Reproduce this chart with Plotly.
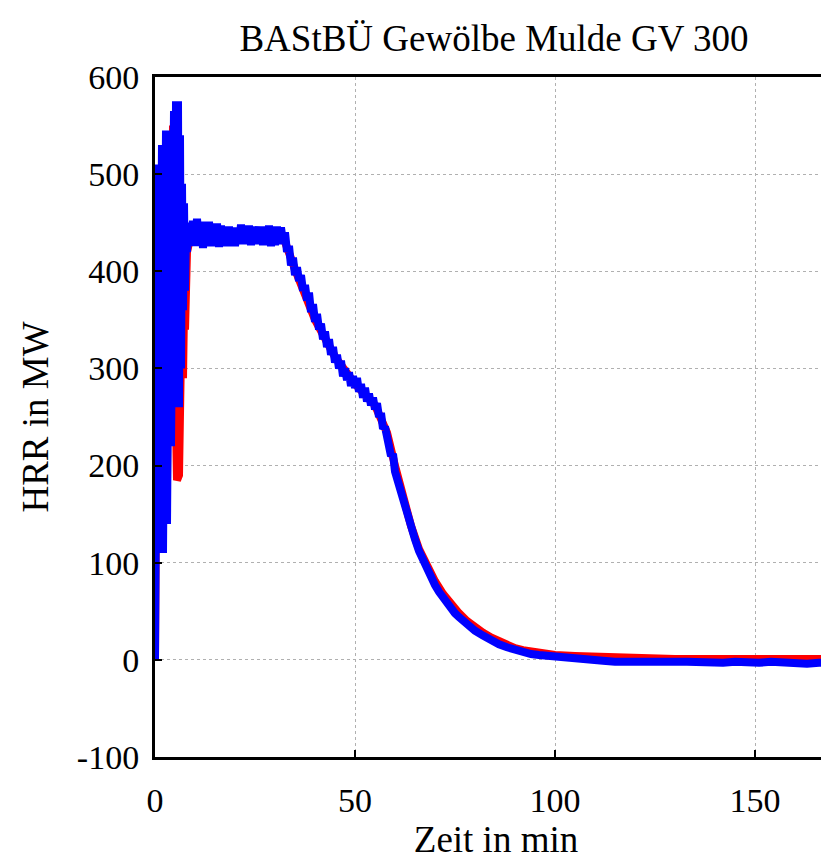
import plotly.graph_objects as go

# ---------------- data ----------------
blue_t = [0, 0.25, 0.5, 0.75, 1.0, 1.25, 1.5, 1.75, 2.0, 2.25, 2.5, 2.75, 3.0, 3.25, 3.5, 3.75,
          4.0, 4.25, 4.5, 4.75, 5.0, 5.25, 5.5, 5.75, 6.0, 6.25, 6.5, 6.75, 7.0, 7.25, 7.5, 7.75, 8.0,
          8.5, 9, 9.5, 10, 10.5, 11, 11.5, 12, 12.5, 13, 13.5, 14, 14.5, 15, 15.5, 16, 16.5, 17, 17.5,
          18, 18.5, 19, 19.5, 20, 20.5, 21, 21.5, 22, 22.5, 23, 23.5, 24, 24.5, 25, 25.5, 26, 26.5,
          27, 27.5, 28, 28.5, 29, 29.5, 30, 30.5, 31, 31.5, 32,
          32.5, 33, 33.5, 34, 34.5, 35, 35.5, 36, 36.5, 37, 37.5, 38, 38.5, 39, 39.5, 40, 40.5, 41,
          41.5, 42, 42.5, 43, 43.5, 44, 44.5, 45, 45.5, 46, 46.5, 47, 47.5, 48, 48.5, 49, 49.5, 50,
          50.5, 51, 51.5, 52, 52.5, 53, 53.5, 54, 54.5, 55, 55.5, 56, 56.5, 57, 57.5, 58, 58.5, 59,
          59.5, 60, 61, 62, 63, 64, 65, 66, 67, 68, 69, 70, 71, 72, 73, 74, 75, 76, 77, 78, 79, 80,
          82, 84, 86, 88, 90, 92, 94, 96, 98, 100, 103, 106, 109, 112, 115, 118, 121, 124, 127, 130,
          133, 136, 139, 142, 145, 148, 151, 154, 157, 160, 163, 166, 170, 173]
blue_v = [0, 500, 175, 510, 150, 530, 150, 530, 110, 545, 110, 545, 140, 520, 150, 520,
          220, 565, 240, 565, 310, 575, 265, 575, 260, 540, 300, 490, 360, 470, 380, 445, 420,
          450, 428, 452, 426, 454, 430, 451, 424, 450, 428, 451, 426, 447, 427, 449, 425, 447, 428, 445,
          426, 446, 428, 444, 426, 445, 429, 448, 428, 446, 430, 447, 427, 445, 429, 446, 428, 444,
          427, 446, 428, 447, 426, 445, 427, 446, 428, 445, 430,
          440, 420, 426, 406, 414, 396, 404, 390, 396, 380, 386, 370, 378, 358, 366, 348, 356, 340,
          346, 330, 338, 322, 330, 314, 322, 306, 314, 300, 308, 292, 300, 288, 296, 282, 292, 280,
          290, 276, 284, 270, 280, 266, 274, 262, 270, 258, 264, 250, 254, 238, 240, 226, 226, 210,
          212, 194, 180, 164, 150, 136, 124, 112, 102, 92, 84, 77, 70, 64, 58, 53, 48, 44, 40, 36,
          33, 30, 25, 20, 16, 13, 10, 8, 6, 5, 4, 3, 2, 0, 0, -1, -2, -1, -2, -2, -3, -2, -2, -3,
          -2, -3, -2, -3, -3, -2, -3, -3, -4, -3, -3, -4, -3, -3]

red_t = [0, 0.25, 0.5, 0.75, 1.0, 1.5, 2.0, 2.5, 3.0, 3.5, 4.0, 4.5, 5.0, 5.5, 6.0, 6.25, 6.5,
         6.75, 7.0, 7.25, 7.5, 8.0, 9, 12, 16, 20, 24, 28, 32, 35, 40, 45, 50, 55, 58, 60, 62, 64,
         66, 68, 70, 72, 74, 76, 78, 80, 82, 84, 86, 88, 90, 92, 95, 100, 105, 110, 120, 130, 140,
         150, 160, 173]
red_v = [0, 480, 200, 500, 200, 500, 150, 520, 180, 500, 250, 550, 300, 185, 190, 260, 270,
         380, 290, 360, 340, 420, 438, 437, 436, 436, 437, 437, 436, 402, 350, 312, 284, 262, 234,
         200, 168, 138, 114, 96, 81, 68, 57, 48, 40, 33, 28, 23, 19, 15, 12, 10, 8, 5, 4, 3, 2, 1,
         1, 1, 1, 1]

x_ticks = [0, 50, 100, 150]
y_ticks = [-100, 0, 100, 200, 300, 400, 500, 600]

title_text = "BAStBÜ Gewölbe Mulde GV 300"
x_title = "Zeit in min"
y_title = "HRR in MW"

# ---------------- figure ----------------
FONT = "Liberation Serif"
FIG_H = 852

fig = go.Figure()
fig.add_trace(go.Scatter(x=red_t, y=red_v, mode="lines",
                         line=dict(color="#ff0000", width=8), showlegend=False))
fig.add_trace(go.Scatter(x=blue_t, y=blue_v, mode="lines",
                         line=dict(color="#0000ff", width=8), showlegend=False))

# the page body adds an 8px offset, so the figure is sized/positioned to compensate
fig.update_layout(
    width=829, height=FIG_H,
    margin=dict(l=147, r=0, t=69, b=FIG_H - 749, autoexpand=False),
    paper_bgcolor="white", plot_bgcolor="white",
    font=dict(family=FONT, color="black", size=34),
    title=dict(text=title_text, font=dict(family=FONT, size=37, color="black"),
               x=0.497, xref="paper", xanchor="center", y=1 - 30 / FIG_H, yref="container",
               yanchor="middle"),
    showlegend=False,
)
fig.update_xaxes(
    range=[0, 170.5], tickvals=x_ticks, ticktext=[str(v) for v in x_ticks],
    showline=True, linecolor="black", linewidth=3, mirror=True,
    ticks="inside", ticklen=7, tickwidth=2, tickcolor="black",
    showgrid=True, gridcolor="#b0b0b0", gridwidth=1, griddash="dot",
    zeroline=False, ticklabelstandoff=11, automargin=False,
    tickfont=dict(family=FONT, size=34),
    title=dict(text=x_title, font=dict(family=FONT, size=37), standoff=8),
)
fig.update_yaxes(
    range=[-100, 600], tickvals=y_ticks, ticktext=[str(v) for v in y_ticks],
    showline=True, linecolor="black", linewidth=3, mirror=False,
    ticks="inside", ticklen=7, tickwidth=2, tickcolor="black",
    showgrid=True, gridcolor="#b0b0b0", gridwidth=1, griddash="dot",
    zeroline=False, ticklabelstandoff=6, automargin=False,
    tickfont=dict(family=FONT, size=34),
    title=dict(text=y_title, font=dict(family=FONT, size=37), standoff=17),
)

fig.write_html(
    "out.html",
    post_script="document.documentElement.style.overflow='hidden';"
                "document.body.style.overflow='hidden';",
)
